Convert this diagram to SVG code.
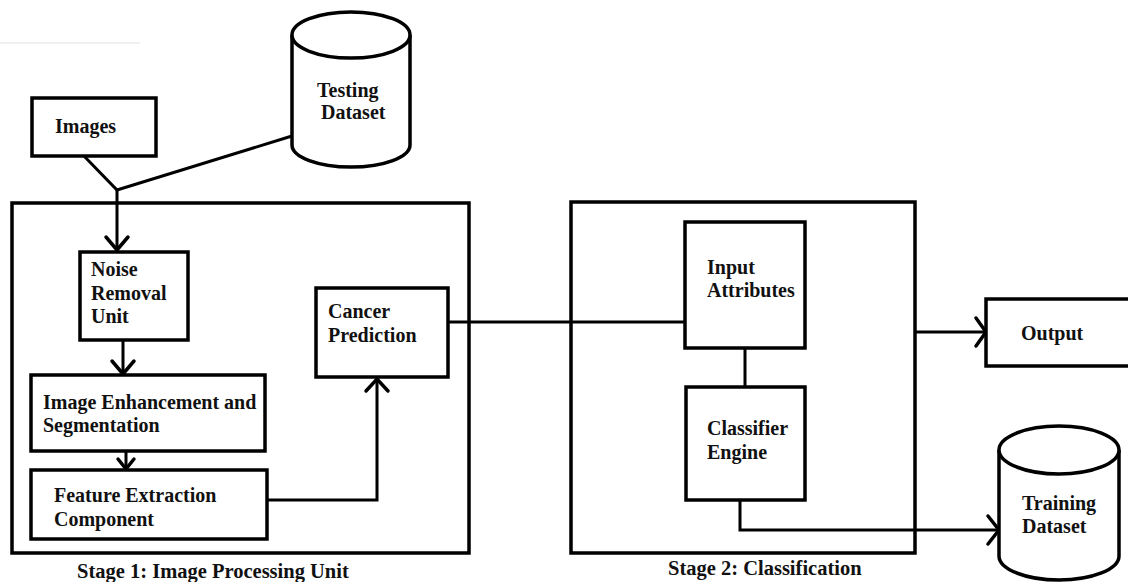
<svg xmlns="http://www.w3.org/2000/svg" width="1128" height="582" viewBox="0 0 1128 582">
  <style>
    .box { fill: #fff; stroke: #000; stroke-width: 3.5; }
    .frame { fill: none; stroke: #000; stroke-width: 3.5; }
    .db { fill: #fff; stroke: #000; stroke-width: 3.5; }
    .line { fill: none; stroke: #000; stroke-width: 3; stroke-linejoin: miter; }
    .head { fill: none; stroke: #000; stroke-width: 3.5; stroke-linecap: round; stroke-linejoin: miter; }
    text { font-family: "Liberation Serif", "Times New Roman", serif; font-weight: bold; font-size: 20px; fill: #111; }
    .caption { font-size: 20.5px; }
  </style>

  <rect width="1128" height="582" fill="#fff"/>
  <line x1="0" y1="43" x2="140" y2="43" stroke="#f0f0f0" stroke-width="2"/>

  <!-- stage frames -->
  <g id="stage1">
    <rect class="frame" x="12" y="203" width="457" height="350"/>
    <text class="caption" x="77" y="578">Stage 1: Image Processing Unit</text>
  </g>
  <g id="stage2">
    <rect class="frame" x="571" y="202" width="344" height="351"/>
    <text class="caption" x="668" y="575">Stage 2: Classification</text>
  </g>

  <!-- connectors -->
  <g id="connectors">
    <path class="line" d="M83,155 L117,190 L292,136"/>
    <path class="line" d="M117,190 L117,250"/>
    <path class="head" d="M106,237 L117,250 L128,237"/>
    <path class="line" d="M123,340 L123,373"/>
    <path class="head" d="M112,361 L123,374 L134,361"/>
    <path class="line" d="M126,451 L126,468"/>
    <path class="head" d="M118,459 L126,469 L134,459"/>
    <path class="line" d="M267,500 L377,500 L377,379"/>
    <path class="head" d="M366,391 L377,379 L388,391"/>
    <path class="line" d="M448,322 L690,322"/>
    <path class="line" d="M745,348 L745,387"/>
    <path class="line" d="M915,332 L985,332"/>
    <path class="head" d="M976,318 L986,332 L976,346"/>
    <path class="line" d="M740,500 L740,530 L999,530"/>
    <path class="head" d="M988,516 L999,530 L988,544"/>
  </g>

  <!-- nodes -->
  <g id="images">
    <rect class="box" x="32" y="98" width="124" height="58"/>
    <text x="55" y="133">Images</text>
  </g>

  <g id="testing-dataset">
    <path class="db" d="M292,35 L292,145 A59,22 0 0 0 410,145 L410,35"/>
    <ellipse class="db" cx="351" cy="35" rx="59" ry="23"/>
    <text x="317" y="97">Testing</text>
    <text x="321" y="119">Dataset</text>
  </g>

  <g id="noise-removal">
    <rect class="box" x="80" y="252" width="108" height="88"/>
    <text x="91" y="276">Noise</text>
    <text x="91" y="300">Removal</text>
    <text x="91" y="323">Unit</text>
  </g>

  <g id="image-enhancement">
    <rect class="box" x="31" y="375" width="234" height="76"/>
    <text x="43" y="409">Image Enhancement and</text>
    <text x="43" y="432">Segmentation</text>
  </g>

  <g id="feature-extraction">
    <rect class="box" x="31" y="470" width="236" height="69"/>
    <text x="54" y="502">Feature Extraction</text>
    <text x="54" y="526">Component</text>
  </g>

  <g id="cancer-prediction">
    <rect class="box" x="316" y="288" width="132" height="89"/>
    <text x="328" y="318">Cancer</text>
    <text x="328" y="342">Prediction</text>
  </g>

  <g id="input-attributes">
    <rect class="box" x="685" y="222" width="120" height="126"/>
    <text x="707" y="274">Input</text>
    <text x="707" y="297">Attributes</text>
  </g>

  <g id="classifier-engine">
    <rect class="box" x="686" y="387" width="119" height="113"/>
    <text x="707" y="435">Classifier</text>
    <text x="707" y="459">Engine</text>
  </g>

  <g id="output">
    <rect class="box" x="986" y="299" width="145" height="67"/>
    <text x="1021" y="340">Output</text>
  </g>

  <g id="training-dataset">
    <path class="db" d="M999,450 L999,556 A60,24 0 0 0 1119,556 L1119,450"/>
    <ellipse class="db" cx="1059" cy="450" rx="60" ry="24"/>
    <text x="1022" y="510">Training</text>
    <text x="1022" y="533">Dataset</text>
  </g>
</svg>
